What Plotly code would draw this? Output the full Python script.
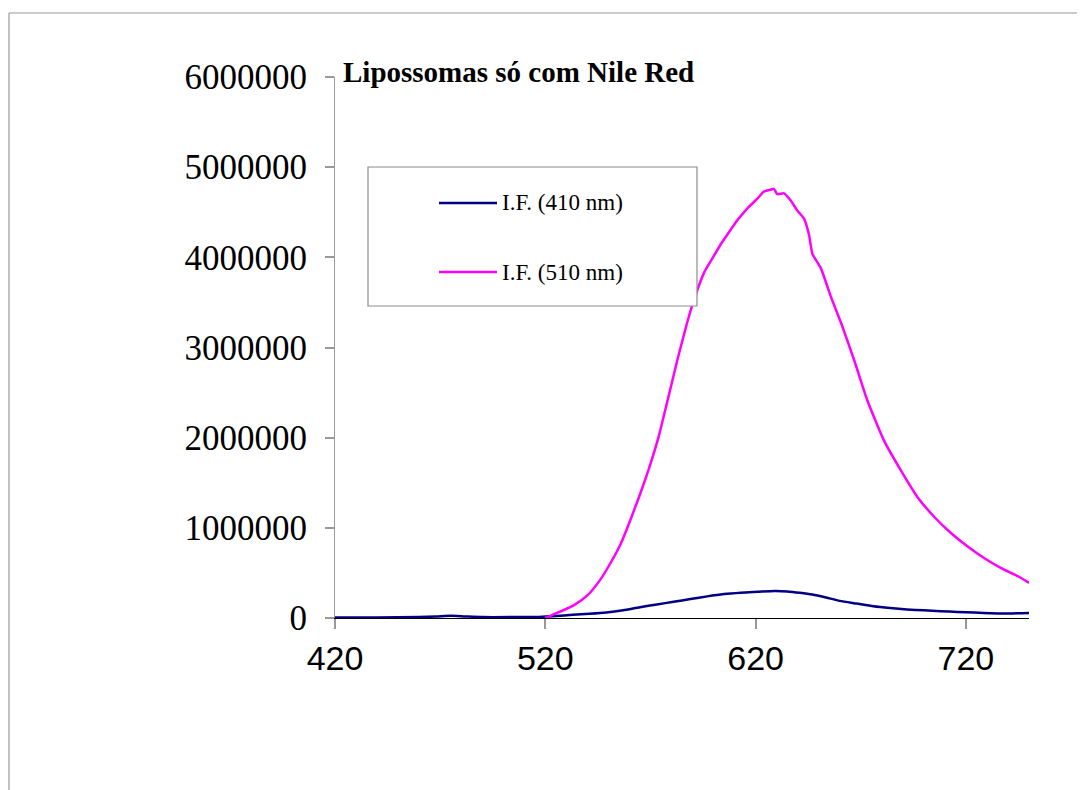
import plotly.graph_objects as go

# ---- data ----
wl_410 = [420, 440, 460, 468, 475, 482, 490, 505, 517, 525, 533, 541, 549, 557, 565,
          573, 581, 589, 597, 605, 613, 621, 629, 635, 641, 647, 653, 660, 668, 676,
          684, 692, 700, 708, 716, 724, 732, 740, 750]
if_410 = [5000, 6000, 10000, 16000, 24000, 17000, 10000, 10000, 12000, 22000, 36000,
          46000, 60000, 85000, 120000, 150000, 180000, 210000, 240000, 265000, 280000,
          290000, 300000, 295000, 280000, 260000, 230000, 190000, 160000, 130000,
          110000, 95000, 85000, 75000, 67000, 60000, 52000, 50000, 55000]

wl_510 = [520, 527, 533.5, 540, 546, 551, 556, 560.5, 565, 570, 574, 578, 583, 587.5,
          591, 595.5, 600, 603.3, 606.5, 611.3, 616, 620.8, 624, 627, 628.7, 630.3,
          633.5, 636.7, 639.8, 643, 645.4, 647, 651, 656, 661, 667, 673, 681, 689, 697,
          705, 713, 721, 729, 737, 745, 750]
if_510 = [0, 70000, 140000, 250000, 420000, 610000, 830000, 1090000, 1370000, 1710000,
          2020000, 2400000, 2880000, 3280000, 3550000, 3830000, 4010000, 4140000,
          4250000, 4410000, 4540000, 4650000, 4730000, 4750000, 4760000, 4700000,
          4710000, 4630000, 4520000, 4430000, 4250000, 4040000, 3880000, 3550000,
          3250000, 2850000, 2420000, 1970000, 1640000, 1340000, 1120000, 940000,
          790000, 660000, 550000, 460000, 390000]

series_names = ["I.F. (410 nm)", "I.F. (510 nm)"]
series_colors = ["#000080", "#FF00FF"]
title_text = "Lipossomas só com Nile Red"
x_ticks = [420, 520, 620, 720]

fig = go.Figure()
fig.add_trace(go.Scatter(x=wl_410, y=if_410, mode="lines", name=series_names[0],
                         line=dict(color=series_colors[0], width=2.5, shape="spline", smoothing=0.6)))
fig.add_trace(go.Scatter(x=wl_510, y=if_510, mode="lines", name=series_names[1],
                         line=dict(color=series_colors[1], width=2.5, shape="spline", smoothing=0.5)))

# page geometry (browser body margin of 8px compensated)
OFF = 8
FW, FH = 1085 - OFF, 790 - OFF
L, R, T, B = 335, 1029, 77, 618          # plot area in page pixels
W, H = R - L, B - T
def px(x):
    return (x - L) / W
def py(y):
    return (B - y) / H

fig.update_layout(
    width=FW, height=FH,
    margin=dict(l=L - OFF, r=1085 - R, t=T - OFF, b=790 - B, pad=0),
    paper_bgcolor="white", plot_bgcolor="white",
    showlegend=False,
    xaxis=dict(range=[420, 750], tickvals=x_ticks, showgrid=False, zeroline=False,
               showline=True, linecolor="black", linewidth=1,
               ticks="outside", ticklen=10, tickcolor="#999999", tickwidth=1.5,
               tickfont=dict(family="Liberation Sans, Arial", size=34, color="black"),
               ticklabelstandoff=0),
    yaxis=dict(range=[0, 6000000], dtick=1000000, tickformat="d", showgrid=False,
               zeroline=False, showline=True, linecolor="#999999", linewidth=1,
               ticks="outside", ticklen=9, tickcolor="#999999", tickwidth=1.5,
               tickfont=dict(family="Liberation Serif, Times New Roman", size=35, color="black"),
               ticklabelstandoff=11),
)

# outer frame (left and top edges visible)
frame = dict(type="line", xref="paper", yref="paper", line=dict(color="#9a9a9a", width=1.2))
fig.add_shape(**frame, x0=px(9), x1=px(1200), y0=py(13), y1=py(13))
fig.add_shape(**frame, x0=px(9), x1=px(9), y0=py(13), y1=py(900))

# title
fig.add_annotation(text="<b>" + title_text + "</b>", xref="paper", yref="paper",
                   x=px(341), y=py(72), xanchor="left", yanchor="middle", showarrow=False,
                   font=dict(family="Liberation Serif, Times New Roman", size=29, color="black"))

# legend box
fig.add_shape(type="rect", xref="paper", yref="paper", x0=px(368), x1=px(697),
              y0=py(306), y1=py(167), line=dict(color="#8c8c8c", width=1.2), fillcolor="white",
              layer="above")
for i, yc in enumerate([203, 272]):
    fig.add_shape(type="line", xref="paper", yref="paper", x0=px(439), x1=px(497),
                  y0=py(yc), y1=py(yc), line=dict(color=series_colors[i], width=2.5), layer="above")
    fig.add_annotation(text=series_names[i], xref="paper", yref="paper", x=px(500), y=py(yc),
                       xanchor="left", yanchor="middle", showarrow=False,
                       font=dict(family="Liberation Serif, Times New Roman", size=23, color="black"))

fig.write_html("out.html")
